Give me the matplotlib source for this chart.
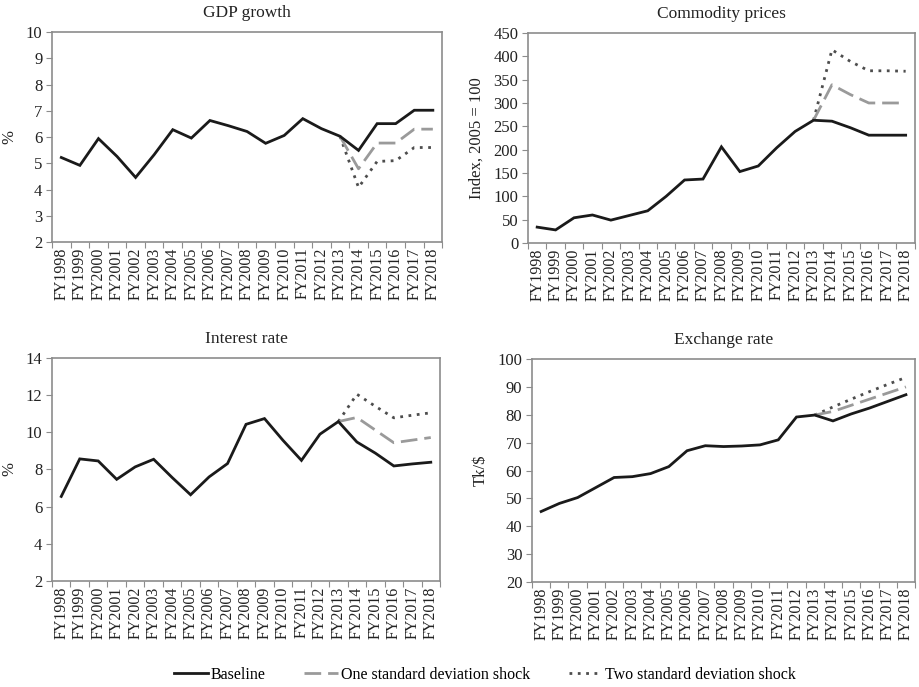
import matplotlib
matplotlib.use("Agg")
import matplotlib.pyplot as plt
import numpy as np

plt.rcParams['font.family'] = ['Liberation Serif', 'DejaVu Serif']

years = ["FY%d" % y for y in range(1998, 2019)]

# GDP growth (%)
gdp_base = [5.22, 4.92, 5.94, 5.26, 4.46, 5.33, 6.28, 5.96, 6.63, 6.43, 6.21, 5.76, 6.06, 6.70, 6.32, 6.03, 5.49, 6.51, 6.51, 7.02, 7.02]
gdp_one = [6.03, 4.79, 5.77, 5.77, 6.30, 6.30]
gdp_two = [6.03, 4.08, 5.07, 5.10, 5.60, 5.60]

# Commodity prices (index, 2005 = 100)
com_base = [34, 28, 54, 60, 49, 59, 69, 100, 135, 137, 206, 153, 165, 204, 239, 263, 261, 247, 231, 231, 231]
com_one = [263, 339, 318, 300, 300, 300]
com_two = [263, 414, 389, 369, 369, 368]

# Interest rate (%)
int_base = [6.55, 8.57, 8.46, 7.47, 8.14, 8.55, 7.57, 6.64, 7.60, 8.32, 10.43, 10.74, 9.57, 8.49, 9.90, 10.58, 9.48, 8.88, 8.19, 8.30, 8.39]
int_one = [10.58, 10.80, 10.12, 9.44, 9.58, 9.72]
int_two = [10.58, 12.05, 11.40, 10.78, 10.92, 11.05]

# Exchange rate (Tk/$)
ex_base = [45.3, 48.2, 50.3, 53.9, 57.5, 57.8, 58.9, 61.4, 67.1, 68.9, 68.6, 68.8, 69.2, 71.0, 79.2, 79.9, 77.8, 80.3, 82.4, 84.8, 87.2]
ex_one = [79.9, 81.2, 83.4, 85.6, 87.8, 90.0]
ex_two = [79.9, 82.8, 85.6, 88.3, 90.9, 93.4]

panels = [
    ("GDP growth", "%", gdp_base, gdp_one, gdp_two, (2, 10), 1),
    ("Commodity prices", "Index, 2005 = 100", com_base, com_one, com_two, (0, 450), 50),
    ("Interest rate", "%", int_base, int_one, int_two, (2, 14), 2),
    ("Exchange rate", "Tk/\\$", ex_base, ex_one, ex_two, (20, 100), 10),
]

positions = [
    [0.0566, 0.6477, 0.4245, 0.3057],
    [0.5745, 0.6463, 0.4210, 0.3057],
    [0.0566, 0.1543, 0.4222, 0.3246],
    [0.5789, 0.1528, 0.4168, 0.3246],
]

fig = plt.figure(figsize=(9.19, 6.87), dpi=100)
frame = "#8c8c8c"
x = np.arange(len(years))
x_shock = x[-6:]

for pos, (title, ylab, base, one, two, ylim, step) in zip(positions, panels):
    ax = fig.add_axes(pos)
    l1, = ax.plot(x, base, color="#1a1a1a", lw=2.0, solid_joinstyle="miter", zorder=3, label="Baseline")
    l2, = ax.plot(x_shock, one, color="#9a9a9a", lw=2.0, dashes=(6, 2.5), zorder=2, label="One standard deviation shock")
    l3, = ax.plot(x_shock, two, color="#4d4d4d", lw=2.0, dashes=(1, 2), zorder=1, label="Two standard deviation shock")
    ax.set_xlim(-0.5, len(years) - 0.5)
    ax.set_ylim(*ylim)
    ax.set_yticks(np.arange(ylim[0], ylim[1] + step / 2, step))
    ax.set_xticks(np.arange(-0.5, len(years), 1.0))
    ax.set_xticklabels([])
    ax.set_xticks(x, minor=True)
    ax.set_xticklabels(years, minor=True, rotation=90, fontsize=11.5, color="#222222")
    ax.tick_params(axis="x", which="major", length=4, color=frame, direction="out")
    ax.tick_params(axis="x", which="minor", length=0, pad=4)
    ax.tick_params(axis="y", length=4, color=frame, direction="out", labelsize=12, labelcolor="#222222", pad=3)
    for s in ax.spines.values():
        s.set_color(frame)
        s.set_linewidth(1.2)
    ax.set_title(title, fontsize=12.5, color="#222222", pad=11)
    ax.set_ylabel(ylab, fontsize=12, color="#222222", labelpad=6)

fig.legend(handles=[l1, l2, l3], loc="center", bbox_to_anchor=(0.528, 0.018), ncol=3, frameon=False,
           fontsize=11.5, handlelength=2.1, handletextpad=0.2, columnspacing=2.4,
           borderpad=0, borderaxespad=0)

fig.savefig("out.png", dpi=100)
